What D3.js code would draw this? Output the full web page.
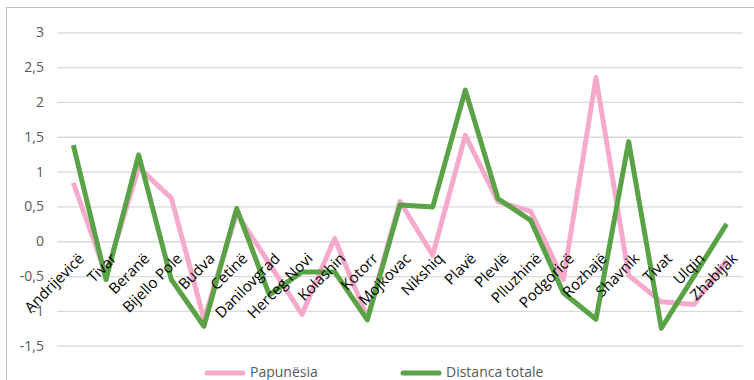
<!DOCTYPE html>
<html><head><meta charset="utf-8">
<script src="https://cdn.jsdelivr.net/npm/d3@7/dist/d3.min.js"></script>
<style>body{margin:0;background:#fff}svg{display:block}</style>
</head><body>
<svg id="c" width="754" height="380"></svg>
<script>
const categories = ["Andrijevicë","Tivar","Beranë","Bijello Pole","Budva","Cetinë","Danilovgrad","Herceg Novi","Kolashin","Kotorr","Mojkovac","Nikshiq","Plavë","Plevlë","Plluzhinë","Podgoricë","Rozhajë","Shavnik","Tivat","Ulqin","Zhabljak"];
const papunesia = [0.84,-0.48,1.06,0.62,-1.12,0.40,-0.32,-1.05,0.04,-1.10,0.57,-0.20,1.52,0.57,0.43,-0.55,2.35,-0.49,-0.87,-0.91,-0.27];
const distanca = [1.38,-0.55,1.24,-0.55,-1.22,0.47,-0.77,-0.44,-0.44,-1.13,0.52,0.49,2.17,0.61,0.30,-0.74,-1.12,1.43,-1.25,-0.50,0.25];
const yTicks = [3,2.5,2,1.5,1,0.5,0,-0.5,-1,-1.5];
const seriesNames = ["Papunësia","Distanca totale"];
const colors = ["#f5aacb","#5aa246"];

const svg = d3.select("#c");
const pL = 57, pR = 743, pT = 32.3, pB = 345.7;
const x = d3.scaleBand().domain(categories).range([pL, pR]);
const y = d3.scaleLinear().domain([-1.5, 3]).range([pB, pT]);

// frame
svg.append("rect").attr("x",6.5).attr("y",7.5).attr("width",760).attr("height",400)
  .attr("fill","none").attr("stroke","#bfbfbf").attr("stroke-width",1);

// grid
const yAxis = d3.axisLeft(y).tickValues(yTicks).tickSize(-(pR-pL)).tickPadding(13)
  .tickFormat(d => String(d).replace(".", ","));
const gy = svg.append("g").attr("transform",`translate(${pL},0)`).call(yAxis);
gy.select(".domain").remove();
gy.selectAll(".tick line").attr("stroke","#d9d9d9").attr("stroke-width",1.3);
gy.selectAll(".tick text").attr("fill","#595959").style("font-family","'Open Sans', sans-serif").style("font-size","14px");

// lines
const line = d3.line().x((d,i)=>x(categories[i]) + x.bandwidth()/2).y(d=>y(d));
[papunesia, distanca].forEach((s,k)=>{
  svg.append("path").datum(s).attr("d", line).attr("fill","none")
    .attr("stroke", colors[k]).attr("stroke-width",5).attr("stroke-linejoin","round");
});

// x labels
const xAxis = d3.axisBottom(x).tickSize(0);
const gx = svg.append("g").attr("transform",`translate(0,${y(0)})`).call(xAxis);
gx.select(".domain").remove();
gx.selectAll(".tick text")
  .attr("text-anchor","end")
  .attr("fill","#000")
  .style("font-family","'Open Sans', sans-serif").style("font-size","15px")
  .attr("transform","translate(8,14.5) rotate(-45)")
  .attr("dy","0.35em").attr("y",0).attr("x",0);

// legend
const lg = svg.append("g");
const legX = [207, 403];
seriesNames.forEach((n,k)=>{
  lg.append("line").attr("x1",legX[k]).attr("x2",legX[k]+36).attr("y1",373).attr("y2",373)
    .attr("stroke",colors[k]).attr("stroke-width",5).attr("stroke-linecap","round");
  lg.append("text").attr("x",legX[k]+43).attr("y",377).text(n)
    .attr("fill","#595959").style("font-family","'Open Sans', sans-serif").style("font-size","14px");
});
</script>
</body></html>
